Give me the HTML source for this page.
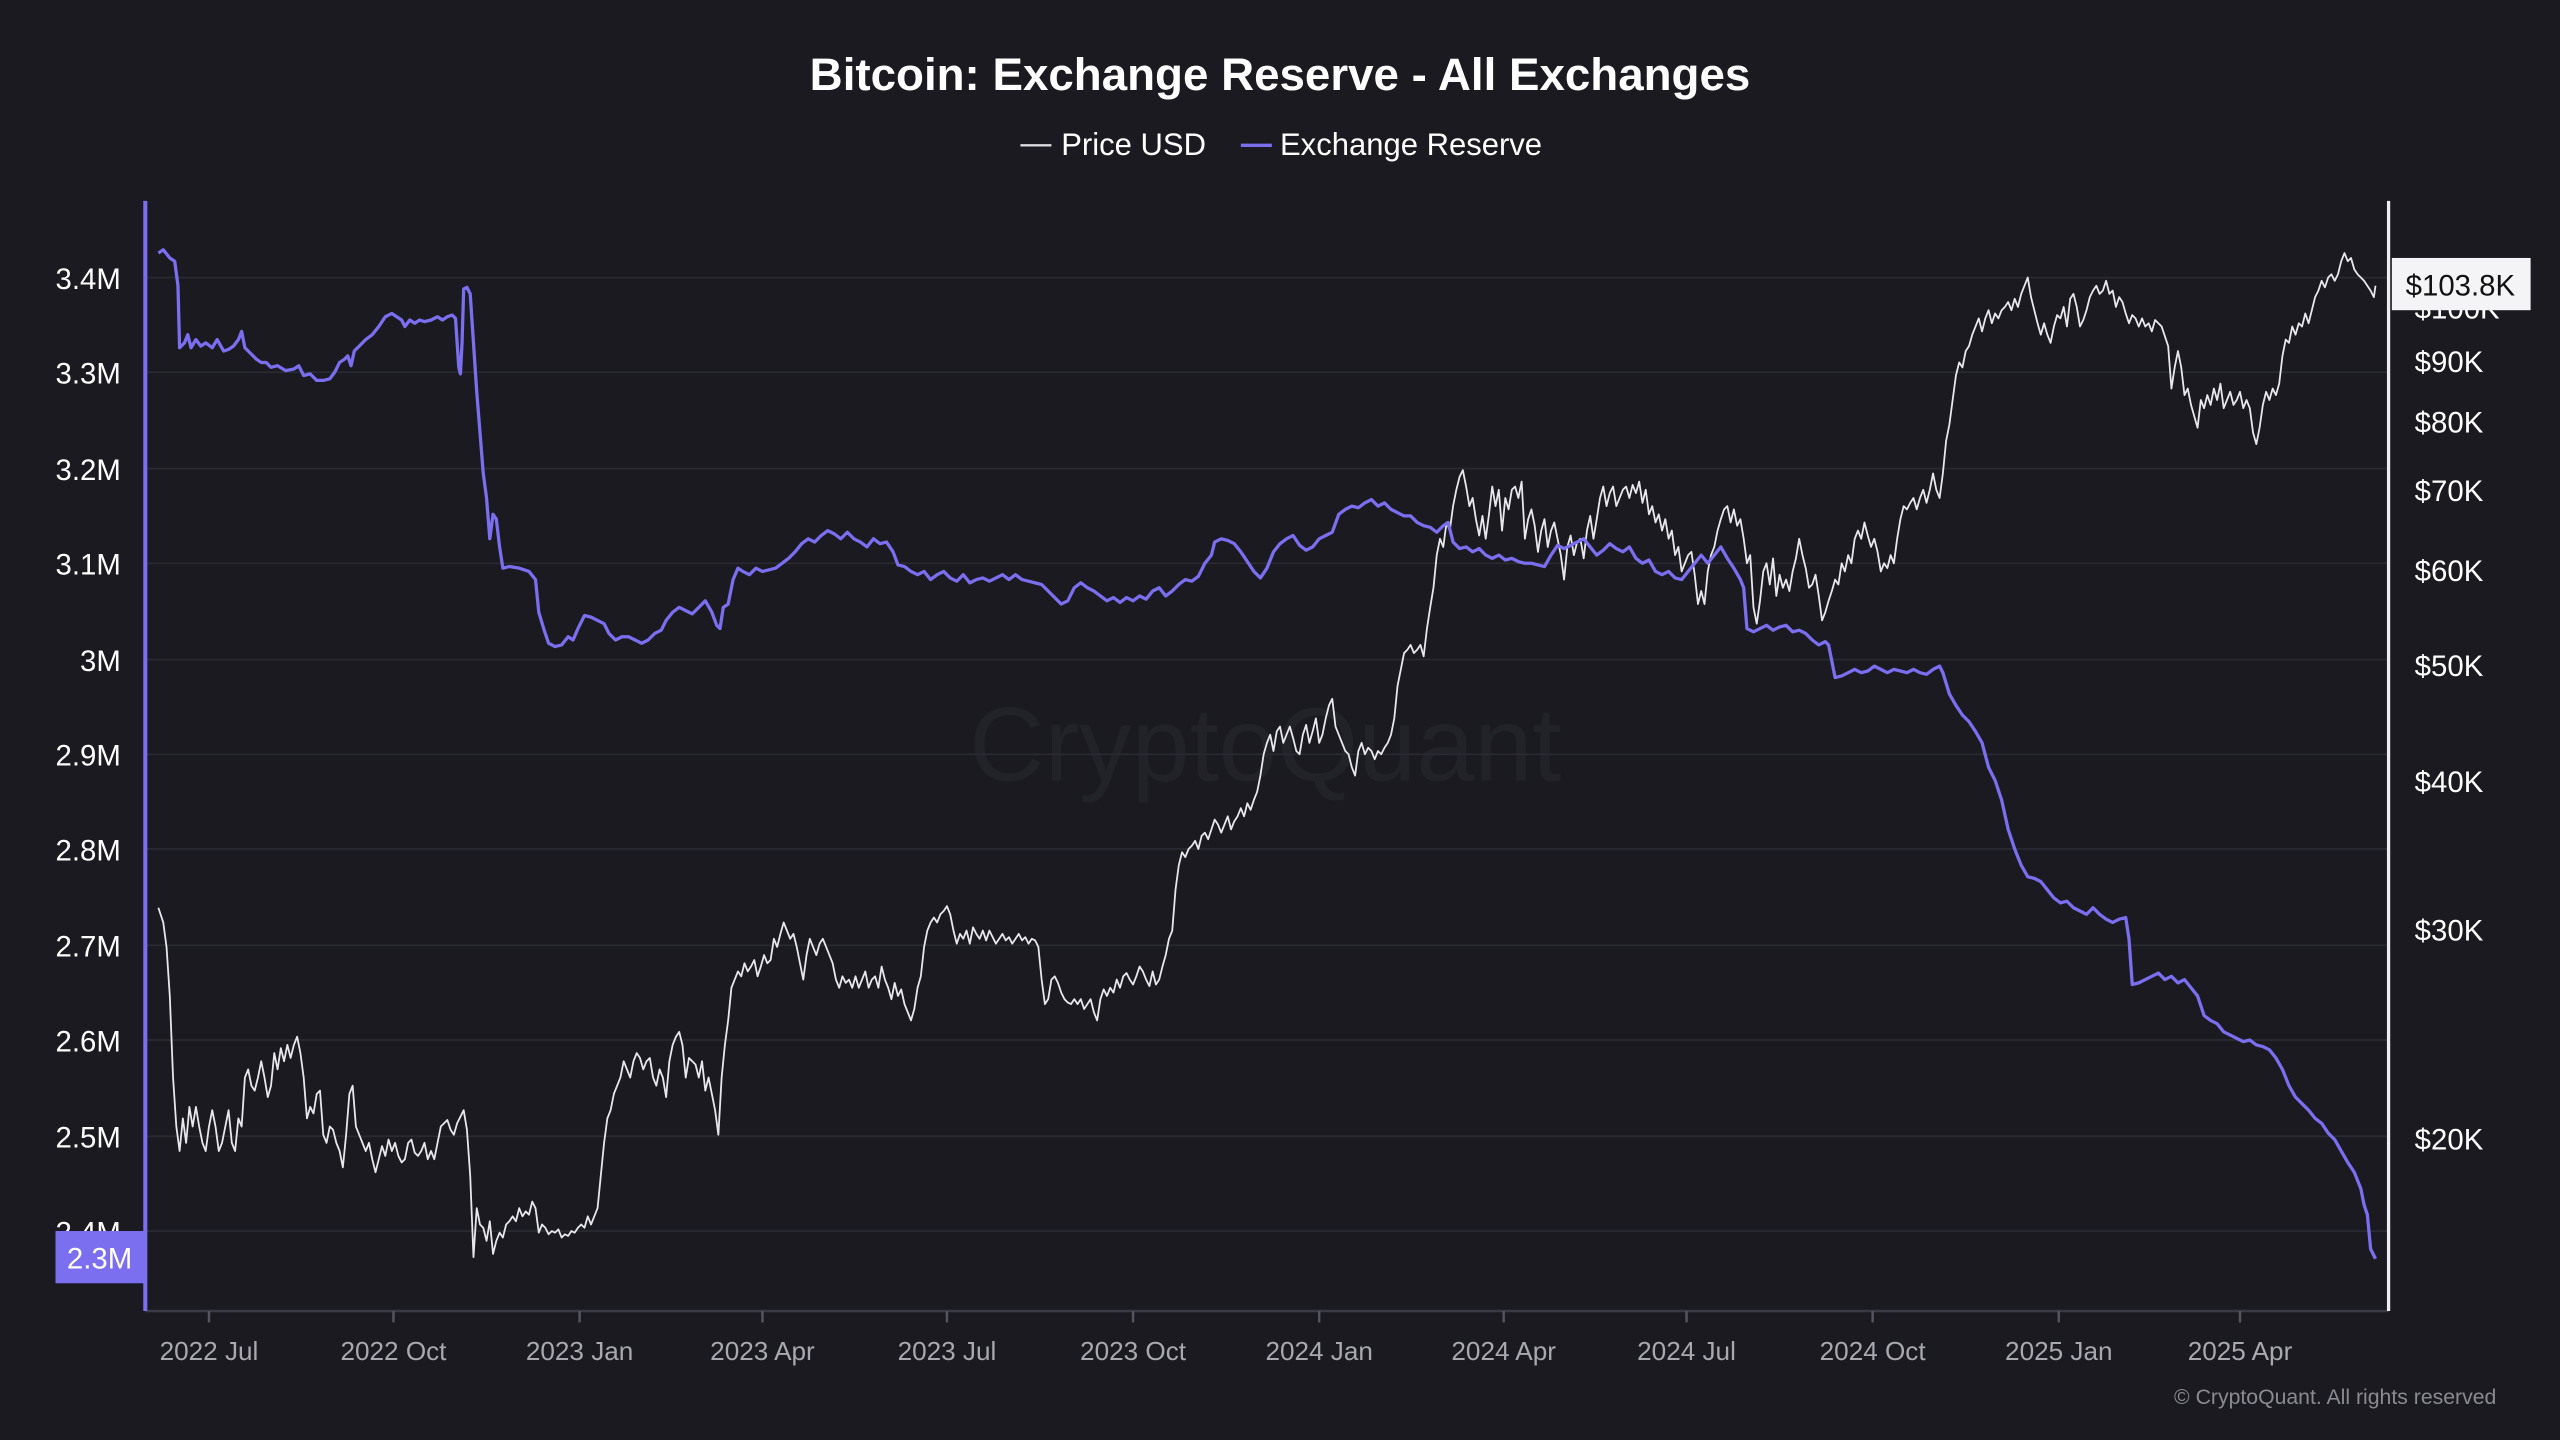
<!DOCTYPE html>
<html><head><meta charset="utf-8"><style>
html,body{margin:0;padding:0;background:#1a1a20;}
svg{display:block;}
text{font-family:"Liberation Sans",sans-serif;}
</style></head><body>
<svg width="2560" height="1440" viewBox="0 0 1568 882" xmlns="http://www.w3.org/2000/svg">
<rect x="0" y="0" width="1568" height="882" fill="#1a1a20"/>
<text x="784" y="55" text-anchor="middle" fill="#ffffff" font-size="28" font-weight="bold">Bitcoin: Exchange Reserve - All Exchanges</text>
<line x1="625" y1="89" x2="644" y2="89" stroke="#dddddd" stroke-width="1.5"/>
<text x="650" y="95" fill="#ffffff" font-size="19">Price USD</text>
<line x1="760" y1="89" x2="779" y2="89" stroke="#7b6ff0" stroke-width="2"/>
<text x="784" y="95" fill="#ffffff" font-size="19">Exchange Reserve</text>
<text x="775" y="478" text-anchor="middle" fill="#222229" font-size="64">CryptoQuant</text>
<g stroke="#2a2a32" stroke-width="1">
<line x1="90" y1="170" x2="1462" y2="170"/><line x1="90" y1="228" x2="1462" y2="228"/><line x1="90" y1="287" x2="1462" y2="287"/><line x1="90" y1="345" x2="1462" y2="345"/><line x1="90" y1="404" x2="1462" y2="404"/><line x1="90" y1="462" x2="1462" y2="462"/><line x1="90" y1="520" x2="1462" y2="520"/><line x1="90" y1="579" x2="1462" y2="579"/><line x1="90" y1="637" x2="1462" y2="637"/><line x1="90" y1="696" x2="1462" y2="696"/><line x1="90" y1="754" x2="1462" y2="754"/>
</g>
<line x1="89" y1="803" x2="1463" y2="803" stroke="#3a3a44" stroke-width="1.5"/>
<g stroke="#555560" stroke-width="1.5">
<line x1="128" y1="803" x2="128" y2="810"/><line x1="241" y1="803" x2="241" y2="810"/><line x1="355" y1="803" x2="355" y2="810"/><line x1="467" y1="803" x2="467" y2="810"/><line x1="580" y1="803" x2="580" y2="810"/><line x1="694" y1="803" x2="694" y2="810"/><line x1="808" y1="803" x2="808" y2="810"/><line x1="921" y1="803" x2="921" y2="810"/><line x1="1033" y1="803" x2="1033" y2="810"/><line x1="1147" y1="803" x2="1147" y2="810"/><line x1="1261" y1="803" x2="1261" y2="810"/><line x1="1372" y1="803" x2="1372" y2="810"/>
</g>
<g fill="#a8a8b0" font-size="16" text-anchor="middle">
<text x="128" y="833">2022 Jul</text><text x="241" y="833">2022 Oct</text><text x="355" y="833">2023 Jan</text><text x="467" y="833">2023 Apr</text><text x="580" y="833">2023 Jul</text><text x="694" y="833">2023 Oct</text><text x="808" y="833">2024 Jan</text><text x="921" y="833">2024 Apr</text><text x="1033" y="833">2024 Jul</text><text x="1147" y="833">2024 Oct</text><text x="1261" y="833">2025 Jan</text><text x="1372" y="833">2025 Apr</text>
</g>
<g fill="#ffffff" font-size="18" text-anchor="end">
<text x="74" y="177">3.4M</text><text x="74" y="235">3.3M</text><text x="74" y="294">3.2M</text><text x="74" y="352">3.1M</text><text x="74" y="411">3M</text><text x="74" y="469">2.9M</text><text x="74" y="527">2.8M</text><text x="74" y="586">2.7M</text><text x="74" y="644">2.6M</text><text x="74" y="703">2.5M</text><text x="74" y="761">2.4M</text>
</g>
<g fill="#ffffff" font-size="18">
<text x="1479" y="195">$100K</text><text x="1479" y="228">$90K</text><text x="1479" y="265">$80K</text><text x="1479" y="307">$70K</text><text x="1479" y="356">$60K</text><text x="1479" y="414">$50K</text><text x="1479" y="485">$40K</text><text x="1479" y="576">$30K</text><text x="1479" y="704">$20K</text>
</g>
<polyline fill="none" stroke="#e8e8ec" stroke-width="1.1" stroke-linejoin="round" points="97,556 100,565 102,580 104,610 106,660 108,690 110,705 112,685 114,700 116,678 118,690 120,678 122,690 124,700 126,705 128,690 130,680 132,690 134,705 136,700 138,690 140,680 142,700 144,705 146,685 148,690 150,660 152,655 154,665 156,668 158,660 160,650 162,660 164,672 166,665 168,645 170,655 172,642 174,650 176,640 178,648 180,640 182,635 184,645 186,660 188,685 190,678 192,682 194,670 196,668 198,695 200,700 202,690 204,692 206,700 208,705 210,715 212,695 214,670 216,665 218,690 220,695 222,700 224,705 226,700 228,710 230,718 232,710 234,702 236,708 238,698 240,705 242,700 244,708 246,712 248,710 250,700 252,698 254,706 256,708 258,705 260,700 262,710 264,705 266,710 268,700 270,690 272,688 274,686 276,692 278,695 280,688 282,684 284,680 286,692 288,720 290,770 292,740 294,750 296,752 298,760 300,748 302,768 304,760 306,755 308,758 310,750 312,748 314,745 316,748 318,740 320,745 322,742 324,744 326,736 328,740 330,755 332,750 334,752 336,756 338,754 340,755 342,753 344,758 346,756 348,757 350,754 352,755 354,752 356,750 358,752 360,745 362,750 364,745 366,740 368,720 370,700 372,685 374,680 376,670 378,665 380,660 382,650 384,655 386,660 388,650 390,645 392,648 394,655 396,650 398,648 400,660 402,665 404,655 406,660 408,672 410,650 412,640 414,635 416,632 418,640 420,660 422,648 424,650 426,652 428,660 430,650 432,668 434,660 436,670 438,680 440,695 442,660 444,640 446,625 448,605 450,600 452,595 454,598 456,590 458,595 460,592 462,588 464,598 466,592 468,585 470,590 472,588 474,575 476,580 478,572 480,565 482,570 484,575 486,572 488,580 490,590 492,600 494,585 496,575 498,580 500,585 502,578 504,575 506,580 508,585 510,590 512,600 514,605 516,598 518,602 520,600 522,605 524,598 526,605 528,600 530,595 532,605 534,600 536,598 538,605 540,592 542,600 544,605 546,612 548,602 550,610 552,606 554,615 556,620 558,625 560,618 562,605 564,598 566,580 568,570 570,565 572,562 574,565 576,560 578,558 580,555 582,560 584,570 586,578 588,572 590,575 592,570 594,578 596,568 598,572 600,575 602,570 604,576 606,570 608,574 610,578 612,575 614,572 616,576 618,574 620,578 622,575 624,572 626,576 628,574 630,578 632,575 634,576 636,580 638,600 640,615 642,612 644,600 646,598 648,602 650,608 652,612 654,614 656,615 658,612 660,615 662,612 664,618 666,615 668,612 670,620 672,625 674,612 676,606 678,610 680,605 682,608 684,600 686,605 688,598 690,596 692,600 694,603 696,598 698,592 700,595 702,600 704,604 706,595 708,603 710,600 712,592 714,585 716,575 718,570 720,545 722,530 724,522 726,525 728,520 730,518 732,515 734,520 736,512 738,510 740,514 742,508 744,502 746,505 748,510 750,505 752,500 754,508 756,503 758,500 760,495 762,500 764,492 766,496 768,490 770,485 772,475 774,462 776,455 778,450 780,460 782,448 784,445 786,455 788,450 790,445 792,452 794,460 796,462 798,450 800,444 802,455 804,448 806,440 808,455 810,450 812,440 814,432 816,428 818,445 820,450 822,455 824,460 826,462 828,470 830,475 832,460 834,455 836,462 838,458 840,460 842,465 844,460 846,462 848,458 850,455 852,450 854,440 856,420 858,410 860,400 862,398 864,395 866,400 868,398 870,395 872,402 874,385 876,372 878,360 880,340 882,330 884,335 886,320 888,325 890,310 892,300 894,292 896,288 898,298 900,310 902,305 904,318 906,328 908,316 910,330 912,315 914,298 916,310 918,300 920,325 922,305 924,312 926,300 928,298 930,305 932,295 934,330 936,318 938,312 940,322 942,338 944,325 946,318 948,335 950,325 952,320 954,330 956,340 958,355 960,335 962,328 964,340 966,332 968,330 970,342 972,325 974,316 976,330 978,318 980,305 982,298 984,310 986,302 988,298 990,310 992,305 994,300 996,298 998,305 1000,297 1002,302 1004,295 1006,308 1008,300 1010,315 1012,310 1014,320 1016,315 1018,325 1020,318 1022,330 1024,325 1026,340 1028,335 1030,350 1032,345 1034,340 1036,338 1038,352 1040,370 1042,362 1044,370 1046,350 1048,340 1050,335 1052,325 1054,318 1056,312 1058,310 1060,320 1062,312 1064,322 1066,318 1068,330 1070,345 1072,340 1074,372 1076,382 1078,368 1080,350 1082,345 1084,358 1086,342 1088,365 1090,352 1092,360 1094,355 1096,362 1098,350 1100,342 1102,330 1104,340 1106,348 1108,360 1110,358 1112,352 1114,365 1116,380 1118,375 1120,368 1122,362 1124,355 1126,358 1128,345 1130,350 1132,340 1134,345 1136,330 1138,325 1140,330 1142,320 1144,328 1146,335 1148,330 1150,338 1152,350 1154,345 1156,348 1158,340 1160,345 1162,330 1164,318 1166,310 1168,312 1170,308 1172,305 1174,312 1176,305 1178,300 1180,308 1182,300 1184,290 1186,300 1188,305 1190,290 1192,270 1194,260 1196,245 1198,230 1200,222 1202,225 1204,215 1206,212 1208,205 1210,200 1212,195 1214,203 1216,195 1218,190 1220,198 1222,192 1224,195 1226,190 1228,188 1230,185 1232,190 1234,183 1236,188 1238,180 1240,175 1242,170 1244,182 1246,190 1248,198 1250,205 1252,198 1254,205 1256,210 1258,200 1260,193 1262,195 1264,188 1266,200 1268,183 1270,180 1272,188 1274,200 1276,196 1278,190 1280,182 1282,178 1284,175 1286,180 1288,178 1290,172 1292,180 1294,178 1296,188 1298,182 1300,185 1302,192 1304,198 1306,193 1308,195 1310,200 1312,195 1314,200 1316,198 1318,203 1320,196 1322,198 1324,200 1326,206 1328,212 1330,238 1332,225 1334,215 1336,225 1338,242 1340,238 1342,248 1344,255 1346,262 1348,245 1350,250 1352,242 1354,248 1356,238 1358,245 1360,235 1362,250 1364,245 1366,240 1368,248 1370,245 1372,240 1374,250 1376,245 1378,250 1380,265 1382,272 1384,262 1386,248 1388,240 1390,245 1392,238 1394,242 1396,235 1398,218 1400,208 1402,210 1404,200 1406,205 1408,198 1410,200 1412,192 1414,198 1416,190 1418,182 1420,178 1422,172 1424,176 1426,170 1428,168 1430,172 1432,168 1434,160 1436,155 1438,160 1440,158 1442,165 1444,168 1446,170 1448,172 1450,175 1452,178 1454,182 1455,175"/>
<polyline fill="none" stroke="#7b6ff0" stroke-width="2" stroke-linejoin="round" points="97,155 100,153 104,158 107,160 109,175 110,213 113,210 115,205 117,213 120,208 123,212 126,210 130,213 133,208 137,215 140,214 143,212 146,208 148,203 150,213 153,216 157,220 160,222 163,222 166,225 170,224 175,227 180,226 183,224 186,230 190,229 194,233 198,233 202,232 205,228 208,222 211,220 213,218 215,224 217,215 220,212 224,208 228,205 232,200 236,194 240,192 243,194 246,196 248,200 251,196 254,198 257,196 260,197 264,196 268,194 271,196 274,194 277,193 279,195 281,225 282,229 283,210 284,177 286,176 288,180 290,210 292,240 294,265 296,290 298,305 300,330 302,315 304,318 306,335 308,348 312,347 318,348 324,350 328,355 330,375 333,385 336,394 340,396 344,395 348,390 351,392 354,385 358,377 362,378 366,380 370,382 373,388 377,392 381,390 385,390 389,392 393,394 397,392 401,388 405,386 408,380 412,375 416,372 420,374 424,376 428,372 432,368 436,375 439,383 441,385 443,372 446,370 449,355 452,348 455,350 459,352 463,348 467,350 471,349 475,348 479,345 483,342 487,338 491,333 495,330 499,332 503,328 507,325 511,327 515,330 519,326 523,330 527,332 531,335 535,330 539,333 543,332 547,338 550,346 554,347 558,350 562,352 566,350 570,355 574,352 578,350 582,354 586,356 590,352 594,357 598,355 602,354 606,356 610,354 614,352 618,355 622,352 626,355 630,356 634,357 638,358 642,362 646,366 650,370 654,368 658,360 662,357 666,360 670,362 674,365 678,368 682,366 686,369 690,366 694,368 698,365 702,367 706,362 710,360 714,365 718,362 722,358 726,355 730,356 734,353 738,345 742,340 744,332 748,330 752,331 756,333 760,338 764,344 768,350 772,354 776,348 780,338 784,333 788,330 792,328 796,334 800,337 804,335 808,330 812,328 816,326 820,315 824,312 828,310 832,311 836,308 840,306 844,310 848,308 852,312 856,314 860,316 864,316 868,320 872,322 876,323 880,326 884,322 887,320 890,332 894,336 898,335 902,338 906,336 910,340 914,342 918,340 922,343 926,342 930,344 934,345 938,345 942,346 946,347 950,340 954,334 958,336 962,334 966,332 970,330 974,335 978,340 982,337 986,333 990,336 994,338 998,335 1002,342 1006,345 1010,343 1014,350 1018,352 1022,350 1026,354 1030,355 1034,350 1038,345 1042,340 1046,345 1050,340 1054,335 1058,342 1062,348 1066,355 1068,360 1070,385 1074,387 1078,385 1082,383 1086,386 1090,384 1094,383 1098,387 1102,386 1106,388 1110,392 1114,395 1118,393 1120,395 1122,405 1124,415 1128,414 1132,412 1136,410 1140,412 1144,411 1148,408 1152,410 1156,412 1160,410 1164,411 1168,412 1172,410 1176,412 1180,413 1184,410 1188,408 1190,412 1194,425 1198,432 1202,438 1206,442 1210,448 1214,455 1218,470 1222,478 1226,490 1230,508 1234,520 1238,530 1242,537 1246,538 1250,540 1254,545 1258,550 1262,553 1266,552 1270,556 1274,558 1278,560 1282,556 1286,560 1290,563 1294,565 1298,563 1302,562 1304,575 1306,603 1310,602 1314,600 1318,598 1322,596 1326,600 1330,598 1334,602 1338,600 1342,605 1346,610 1350,622 1354,625 1358,627 1362,632 1366,634 1370,636 1374,638 1378,637 1382,640 1386,641 1390,643 1394,648 1398,655 1402,665 1406,672 1410,676 1414,680 1418,685 1422,688 1426,694 1430,698 1434,705 1438,712 1442,718 1446,728 1448,738 1450,744 1452,765 1455,771"/>
<line x1="89" y1="123" x2="89" y2="803" stroke="#7b6ff0" stroke-width="2.5"/>
<line x1="1463" y1="123" x2="1463" y2="803" stroke="#eeeeee" stroke-width="2"/>
<rect x="34" y="754" width="54" height="32" fill="#7b6ff0"/>
<text x="61" y="777" text-anchor="middle" fill="#ffffff" font-size="18">2.3M</text>
<rect x="1465" y="158" width="85" height="32" fill="#f4f4f6"/>
<text x="1507" y="181" text-anchor="middle" fill="#111111" font-size="18">$103.8K</text>
<text x="1529" y="860" text-anchor="end" fill="#8a8a92" font-size="13">© CryptoQuant. All rights reserved</text>
</svg>
</body></html>
